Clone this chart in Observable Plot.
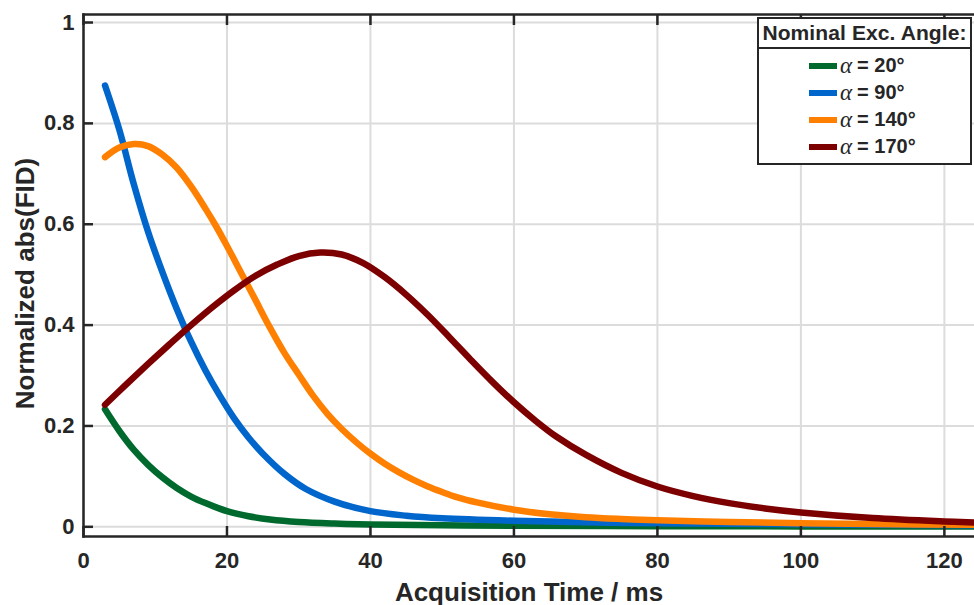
<!DOCTYPE html>
<html>
<head>
<meta charset="utf-8">
<script src="https://cdn.jsdelivr.net/npm/d3@7"></script>
<script src="https://cdn.jsdelivr.net/npm/@observablehq/plot@0.6"></script>
<style>
  html, body { margin: 0; padding: 0; background: #fff; }
  #wrap { position: relative; width: 974px; height: 605px; font-family: "Liberation Sans", Arial, sans-serif; color: #262626; }
  #legend { position: absolute; left: 757px; top: 17px; width: 211px; border: 2.5px solid #262626; background: #fff; font-weight: bold; }
  #legend .hdr { font-size: 21px; text-align: center; border-bottom: 2.5px solid #262626; height: 28px; line-height: 28px; white-space: nowrap; letter-spacing: 0.1px; }
  #legend .row { height: 27px; display: flex; align-items: center; padding-left: 50px; font-size: 20px; }
  #legend .sw { width: 28px; height: 6px; margin-right: 3px; }
  #legend .al { font-family: "Liberation Serif", "DejaVu Serif", serif; font-style: italic; font-weight: normal; font-size: 23px; margin-right: 5px; }
</style>
</head>
<body>
<div id="wrap"></div>
<script>
// ---- data ----
const seriesNames = ["α = 20°", "α = 90°", "α = 140°", "α = 170°"];
const seriesColors = ["#006a2e", "#0066cc", "#ff8000", "#7d0000"];

const t20 = [3, 5, 7, 9, 11, 13, 15, 17, 20, 23, 26, 30, 35, 40, 50, 60, 80, 100, 124.2];
const v20 = [0.233, 0.19, 0.153, 0.123, 0.098, 0.077, 0.06, 0.047, 0.031, 0.021, 0.0145, 0.0095, 0.0065, 0.0048, 0.003, 0.002, 0.0012, 0.0008, 0.0005];

const t90 = [3, 5, 7, 9, 11, 13, 15, 17, 19, 21, 23, 25, 28, 31, 35, 40, 45, 50, 60, 70, 80, 100, 124.2];
const v90 = [0.875, 0.787, 0.68, 0.585, 0.505, 0.432, 0.367, 0.31, 0.26, 0.215, 0.177, 0.145, 0.105, 0.075, 0.05, 0.031, 0.022, 0.017, 0.012, 0.009, 0.007, 0.005, 0.003];

const t140 = [3, 5, 7, 9, 11, 13, 15, 17, 18.4, 20, 22, 24, 25.8, 28, 30, 32, 34, 36, 38, 40, 42, 44, 46, 48, 50, 52, 55, 60, 65, 70, 75, 80, 90, 100, 110, 124.2];
const v140 = [0.733, 0.752, 0.759, 0.755, 0.738, 0.712, 0.675, 0.631, 0.598, 0.557, 0.503, 0.449, 0.40, 0.345, 0.302, 0.26, 0.224, 0.194, 0.168, 0.145, 0.125, 0.108, 0.093, 0.08, 0.069, 0.059, 0.048, 0.034, 0.025, 0.019, 0.0155, 0.013, 0.0095, 0.0072, 0.0055, 0.004];

const t170 = [3, 6, 9, 12, 15, 18, 21, 24, 27, 30, 33, 36, 39, 42, 45, 48, 51, 54, 57, 60, 63, 66, 70, 75, 80, 85, 90, 95, 100, 110, 120, 124.2];
const v170 = [0.242, 0.283, 0.323, 0.362, 0.40, 0.436, 0.469, 0.498, 0.52, 0.537, 0.544, 0.54, 0.523, 0.495, 0.46, 0.42, 0.376, 0.331, 0.2875, 0.247, 0.2105, 0.178, 0.143, 0.107, 0.08, 0.061, 0.047, 0.0365, 0.0285, 0.0173, 0.0106, 0.0086];

const xTicks = [0, 20, 40, 60, 80, 100, 120];
const yTicks = [0, 0.2, 0.4, 0.6, 0.8, 1];
const xLabel = "Acquisition Time / ms";
const yLabel = "Normalized abs(FID)";
const legendTitle = "Nominal Exc. Angle:";

// ---- build table ----
const allT = [t20, t90, t140, t170];
const allV = [v20, v90, v140, v170];
const rows = [];
allT.forEach((ts, s) => ts.forEach((t, i) => rows.push({t, v: allV[s][i], s: seriesNames[s]})));

const ink = "#262626";
const fmt = d3.format("~g");

const chart = Plot.plot({
  width: 974,
  height: 605,
  marginLeft: 83,
  marginRight: 0,
  marginTop: 14,
  marginBottom: 69,
  style: {fontFamily: "'Liberation Sans', Arial, sans-serif", fontWeight: "bold", fontSize: "22px", color: ink, background: "#fff", overflow: "visible"},
  x: {domain: [0, 124.2]},
  y: {domain: [-0.0192, 1.0159]},
  color: {domain: seriesNames, range: seriesColors},
  marks: [
    Plot.gridX(xTicks, {stroke: "#dcdcdc", strokeOpacity: 1, strokeWidth: 2}),
    Plot.gridY(yTicks, {stroke: "#dcdcdc", strokeOpacity: 1, strokeWidth: 2}),
    Plot.line(rows, {x: "t", y: "v", z: "s", stroke: "s", strokeWidth: 6.5, curve: "catmull-rom"}),
    // inward tick marks
    Plot.axisY(yTicks, {anchor: "left", tickSize: 10, dx: 10, fill: "none", stroke: ink, strokeWidth: 2.5, label: null}),
    Plot.axisX(xTicks, {anchor: "bottom", tickSize: 10, dy: -10, fill: "none", stroke: ink, strokeWidth: 2.5, label: null}),
    Plot.axisX(xTicks, {anchor: "top", tickSize: 10, dy: 10, fill: "none", stroke: ink, strokeWidth: 2.5, label: null}),
    // tick labels
    Plot.axisY(yTicks, {anchor: "left", tickSize: 0, tickPadding: 9, tickFormat: fmt, fill: ink, label: null, fontSize: 22}),
    Plot.axisX(xTicks, {anchor: "bottom", tickSize: 0, tickPadding: 16, tickFormat: fmt, fill: ink, label: null, fontSize: 22}),
    // frame
    Plot.frame({anchor: "left", stroke: ink, strokeWidth: 2.5}),
    Plot.frame({anchor: "bottom", stroke: ink, strokeWidth: 2.5}),
    Plot.frame({anchor: "top", stroke: ink, strokeWidth: 2.5}),
    // axis titles
    Plot.text([xLabel], {frameAnchor: "bottom", dy: 56, fontSize: 26, fill: ink, lineAnchor: "middle", textAnchor: "middle"}),
    Plot.text([yLabel], {frameAnchor: "left", dx: -58, dy: 8, rotate: -90, fontSize: 26, fill: ink, lineAnchor: "middle", textAnchor: "middle"})
  ]
});

const wrap = document.getElementById("wrap");
wrap.appendChild(chart);

// legend
const lg = document.createElement("div");
lg.id = "legend";
const hdr = document.createElement("div");
hdr.className = "hdr";
hdr.textContent = legendTitle;
lg.appendChild(hdr);
const body = document.createElement("div");
body.style.padding = "3px 0 3px 0";
seriesNames.forEach((name, i) => {
  const r = document.createElement("div");
  r.className = "row";
  const sw = document.createElement("span");
  sw.className = "sw";
  sw.style.background = seriesColors[i];
  r.appendChild(sw);
  const a = document.createElement("span");
  a.className = "al";
  a.textContent = name.slice(0, 1);
  r.appendChild(a);
  const rest = document.createElement("span");
  rest.textContent = name.slice(2);
  r.appendChild(rest);
  body.appendChild(r);
});
lg.appendChild(body);
wrap.appendChild(lg);
</script>
</body>
</html>
